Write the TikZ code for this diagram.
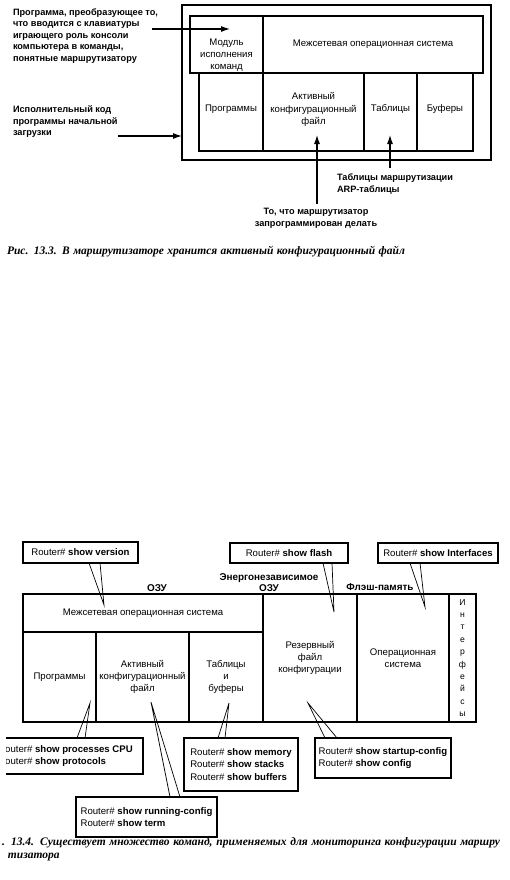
\documentclass[tikz,border=0pt]{standalone}
\usepackage{fontspec}
\setmainfont{Liberation Sans}
\newfontfamily\capfont{Liberation Serif}
\usetikzlibrary{arrows.meta}
\begin{document}
\begin{tikzpicture}[x=1pt,y=-1pt,
  every node/.style={inner sep=0pt, outer sep=0pt},
  cellbox/.style={draw, line width=1.2pt, align=center, font=\fontsize{9.6}{12.4}\selectfont},
  plain/.style={font=\fontsize{9.6}{12.2}\selectfont, align=center},
  note/.style={font=\bfseries\fontsize{9.2}{11.5}\selectfont, align=left},
  lbl/.style={font=\bfseries\fontsize{9.9}{11}\selectfont, align=center},
  arr/.style={line width=1.1pt, -{Latex[length=9pt,width=6pt]}},
  ptr/.style={line width=0.7pt},
  callout/.style={draw, line width=1.1pt, font=\fontsize{9.6}{12.4}\selectfont, align=left},
  capstyle/.style={font=\capfont\bfseries\itshape\fontsize{11.5}{13}\selectfont},
]
\useasboundingbox (0,0) rectangle (509,880);
\fill[white] (0,0) rectangle (509,880);

% ---------------- Top diagram ----------------
\node[draw, line width=1.2pt, minimum width=309pt, minimum height=155pt] (outer) at (336.5,82.5) {};
\node[cellbox, minimum width=73pt, minimum height=57pt] (mod) at (226.5,44.5) {};
\node[plain] (modtxt) at (226.5,55) {Модуль\\исполнения\\команд};
\node[cellbox, minimum width=220pt, minimum height=57pt] (os1) at (373,44.5) {Межсетевая операционная система};
\node[cellbox, minimum width=64pt, minimum height=78pt] (prog1) at (231,112) {};
\node[cellbox, minimum width=101pt, minimum height=78pt] (act1) at (313.5,112) {};
\node[cellbox, minimum width=53pt, minimum height=78pt] (tab1) at (390.5,112) {};
\node[cellbox, minimum width=56pt, minimum height=78pt] (buf1) at (445,112) {};
\node[plain] (prog1t) at (231,109) {Программы};
\node[plain] (act1t) at (313.5,109.5) {Активный\\конфигурационный\\файл};
\node[plain] (tab1t) at (390.5,109) {Таблицы};
\node[plain] (buf1t) at (445,109) {Буферы};

\node[note, anchor=west] (t1) at (13,36) {Программа, преобразующее то,\\что вводится с клавиатуры\\играющего роль консоли\\компьютера в команды,\\понятные маршрутизатору};
\node[note, anchor=west] (t2) at (13,122) {Исполнительный код\\программы начальной\\загрузки};
\node[note, anchor=west] (t3) at (337,184) {Таблицы маршрутизации\\ARP-таблицы};
\node[note, align=center] (t4) at (316,218.5) {То, что маршрутизатор\\запрограммирован делать};

\coordinate (a1s) at (152,29);
\coordinate (a1e) at (230,29);
\draw[arr] (a1s) -- (a1e);
\coordinate (a2s) at (118,136);
\draw[arr] (a2s) -- (a2s -| outer.west);
\coordinate (a3s) at (317,204);
\coordinate (a3e) at (317,135);
\draw[arr] (a3s) -- (a3e);
\coordinate (a4s) at (390,168);
\coordinate (a4e) at (390,135);
\draw[arr] (a4s) -- (a4e);

\node[capstyle, anchor=west] (cap1) at (7,252) {\makebox[398pt][s]{Рис. 13.3. В маршрутизаторе хранится активный конфигурационный файл}};

% ---------------- Bottom diagram ----------------
\node[cellbox, minimum width=240pt, minimum height=38pt] (osB) at (143,613) {Межсетевая операционная система};
\node[cellbox, minimum width=73pt, minimum height=90pt] (progB) at (59.5,677) {Программы};
\node[cellbox, minimum width=93pt, minimum height=90pt] (actB) at (142.5,677) {Активный\\конфигурационный\\файл};
\node[cellbox, minimum width=74pt, minimum height=90pt] (tabB) at (226,677) {Таблицы\\и\\буферы};
\node[cellbox, minimum width=94pt, minimum height=128pt] (resB) at (310,658) {Резервный\\файл\\конфигурации};
\node[cellbox, minimum width=92pt, minimum height=128pt] (opsB) at (403,658) {Операционная\\система};
\node[cellbox, minimum width=27pt, minimum height=128pt, font=\fontsize{8.6}{12.4}\selectfont] (intB) at (462.5,658) {И\\н\\т\\е\\р\\ф\\е\\й\\с\\ы};

\node[lbl] (ozu) at (157,588) {ОЗУ};
\node[lbl] (nvram) at (269,582.5) {Энергонезависимое\\ОЗУ};
\node[lbl] (flash) at (380,587) {Флэш-память};

\node[callout, minimum width=115pt, minimum height=21pt] (cV) at (80.5,552.5) {Router\# \textbf{show version}};
\node[callout, minimum width=118pt, minimum height=20pt] (cF) at (289,553) {Router\# \textbf{show flash}};
\node[callout, minimum width=120pt, minimum height=20pt] (cI) at (438,553) {Router\# \textbf{show Interfaces}};

\begin{scope}
\clip (6,730) rectangle (160,790);
\node[callout, minimum width=155pt, minimum height=36pt] (cP) at (65.5,756) {Router\# \textbf{show processes CPU}\\Router\# \textbf{show protocols}};
\end{scope}
\node[callout, minimum width=114pt, minimum height=53pt] (cM) at (241,764.5) {Router\# \textbf{show memory}\\Router\# \textbf{show stacks}\\Router\# \textbf{show buffers}};
\node[callout, minimum width=136pt, minimum height=40pt] (cS) at (383,758) {Router\# \textbf{show startup-config}\\Router\# \textbf{show config}};
\node[callout, minimum width=141pt, minimum height=40pt] (cR) at (146.5,817) {Router\# \textbf{show running-config}\\Router\# \textbf{show term}};

% pointers
\coordinate (pV) at (104,605);
\draw[ptr] ([xshift=8.5pt]cV.south) -- (pV) -- ([xshift=19.5pt]cV.south);
\coordinate (pF) at (334,612);
\draw[ptr] ([xshift=34pt]cF.south) -- (pF) -- ([xshift=43pt]cF.south);
\coordinate (pI) at (425,607);
\draw[ptr] ([xshift=-28pt]cI.south) -- (pI) -- ([xshift=-18pt]cI.south);
\coordinate (pP) at (90,703);
\draw[ptr] ([xshift=11.5pt]cP.north) -- (pP) -- ([xshift=19.5pt]cP.north);
\coordinate (pM) at (229,703);
\draw[ptr] ([xshift=-23pt]cM.north) -- (pM) -- ([xshift=-16pt]cM.north);
\coordinate (pS) at (308,703);
\draw[ptr] ([xshift=-58pt]cS.north) -- (pS) -- ([xshift=-46pt]cS.north);
\coordinate (pR) at (151,702);
\draw[ptr] ([xshift=23.5pt]cR.north) -- (pR) -- ([xshift=33.5pt]cR.north);

\node[capstyle, anchor=west] (cap2) at (2,843) {\makebox[498pt][s]{. 13.4. Существует множество команд, применяемых для мониторинга конфигурации маршру}};
\node[capstyle, anchor=west] (cap2b) at (8,857) {тизатора};
\end{tikzpicture}
\end{document}
